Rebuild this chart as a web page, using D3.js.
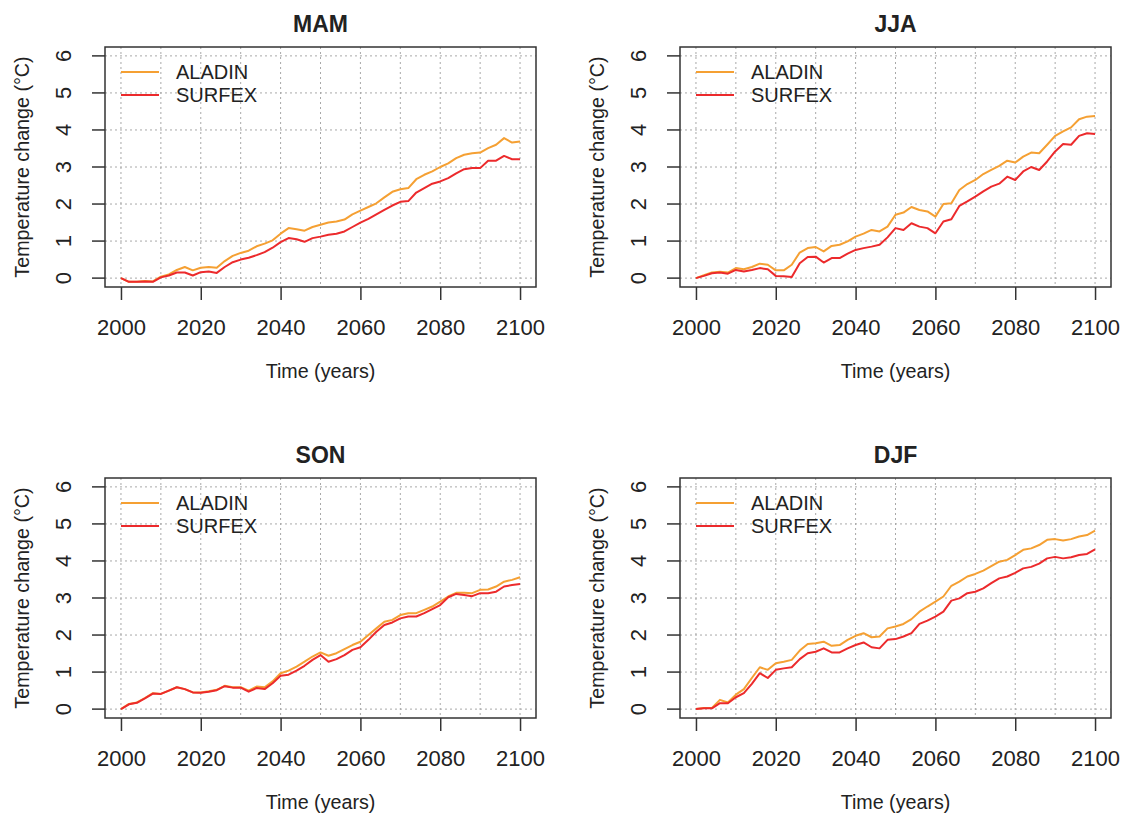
<!DOCTYPE html>
<html>
<head>
<meta charset="utf-8">
<script src="https://cdn.jsdelivr.net/npm/d3@7"></script>
<style>
  body { margin: 0; background: #fff; }
  svg text { font-family: "Liberation Sans", Arial, sans-serif; fill: #222; }
</style>
</head>
<body>
<script>
// years sampled every 2 years
const years = d3.range(2000, 2101, 2);

const seasons = ["MAM", "JJA", "SON", "DJF"];
const seriesNames = ["ALADIN", "SURFEX"];
const xTicks = [2000, 2020, 2040, 2060, 2080, 2100];
const yTicks = [0, 1, 2, 3, 4, 5, 6];
const xGrid = d3.range(2000, 2101, 10);

const mamAladin = [0, -0.1, -0.1, -0.08, -0.09, 0.04, 0.1, 0.22, 0.3, 0.21, 0.28, 0.3, 0.28, 0.46, 0.6, 0.68, 0.74, 0.86, 0.93, 1.02,
  1.2, 1.35, 1.32, 1.28, 1.38, 1.44, 1.5, 1.53, 1.58, 1.72, 1.82, 1.92, 2.02, 2.18, 2.33, 2.4, 2.43, 2.67, 2.79, 2.88,
  3.0, 3.1, 3.24, 3.33, 3.37, 3.39, 3.51, 3.6, 3.78, 3.66, 3.69];
const mamSurfex = [0, -0.1, -0.1, -0.09, -0.1, 0.02, 0.07, 0.15, 0.15, 0.07, 0.16, 0.18, 0.14, 0.3, 0.43, 0.5, 0.55, 0.62, 0.7, 0.82,
  0.97, 1.08, 1.05, 0.98, 1.08, 1.12, 1.17, 1.2, 1.26, 1.38, 1.5, 1.6, 1.72, 1.84, 1.96, 2.06, 2.08, 2.31, 2.43, 2.55,
  2.61, 2.7, 2.83, 2.94, 2.97, 2.97, 3.17, 3.17, 3.3, 3.21, 3.21];

const jjaAladin = [0, 0.08, 0.15, 0.17, 0.15, 0.27, 0.24, 0.3, 0.39, 0.36, 0.21, 0.21, 0.36, 0.69, 0.81, 0.84, 0.72, 0.87, 0.9, 0.99,
  1.12, 1.2, 1.3, 1.26, 1.39, 1.71, 1.77, 1.92, 1.84, 1.8, 1.66, 2.0, 2.02, 2.38, 2.54, 2.65, 2.81, 2.92, 3.03, 3.17,
  3.12, 3.28, 3.39, 3.37, 3.6, 3.84, 3.96, 4.07, 4.29, 4.36, 4.38];
const jjaSurfex = [0, 0.06, 0.13, 0.15, 0.12, 0.22, 0.18, 0.22, 0.27, 0.24, 0.06, 0.05, 0.03, 0.4, 0.57, 0.58, 0.42, 0.54, 0.54, 0.66,
  0.76, 0.81, 0.85, 0.9, 1.1, 1.35, 1.3, 1.48, 1.39, 1.35, 1.21, 1.53, 1.59, 1.95, 2.07, 2.2, 2.34, 2.47, 2.55, 2.74,
  2.65, 2.88, 3.0, 2.92, 3.15, 3.42, 3.62, 3.6, 3.84, 3.91, 3.89];

const sonAladin = [0, 0.14, 0.18, 0.3, 0.43, 0.41, 0.5, 0.59, 0.54, 0.45, 0.45, 0.48, 0.52, 0.63, 0.59, 0.59, 0.5, 0.61, 0.59, 0.75,
  0.97, 1.04, 1.15, 1.28, 1.42, 1.53, 1.44, 1.51, 1.62, 1.73, 1.82, 2.0, 2.18, 2.36, 2.41, 2.54, 2.59, 2.59, 2.68, 2.77,
  2.9, 3.04, 3.14, 3.14, 3.13, 3.22, 3.23, 3.31, 3.44, 3.49, 3.56];
const sonSurfex = [0, 0.13, 0.17, 0.29, 0.42, 0.41, 0.5, 0.59, 0.54, 0.45, 0.44, 0.47, 0.51, 0.62, 0.58, 0.58, 0.47, 0.57, 0.54, 0.7,
  0.9, 0.93, 1.04, 1.17, 1.33, 1.46, 1.28, 1.35, 1.46, 1.6, 1.67, 1.87, 2.09, 2.27, 2.34, 2.45, 2.5, 2.5, 2.59, 2.7,
  2.81, 3.02, 3.11, 3.08, 3.05, 3.13, 3.13, 3.17, 3.31, 3.35, 3.38];

const djfAladin = [0, 0.03, 0.03, 0.25, 0.18, 0.39, 0.54, 0.84, 1.13, 1.06, 1.24, 1.28, 1.33, 1.58, 1.76, 1.78, 1.82, 1.71, 1.73, 1.87,
  1.98, 2.05, 1.94, 1.96, 2.18, 2.23, 2.3, 2.43, 2.63, 2.77, 2.9, 3.04, 3.33, 3.44, 3.58, 3.65, 3.74, 3.86, 3.98, 4.03,
  4.16, 4.3, 4.34, 4.43, 4.57, 4.59, 4.55, 4.59, 4.66, 4.7, 4.82];
const djfSurfex = [0, 0.02, 0.02, 0.16, 0.16, 0.32, 0.43, 0.68, 0.97, 0.84, 1.06, 1.1, 1.13, 1.35, 1.51, 1.55, 1.64, 1.53, 1.53, 1.64,
  1.73, 1.8, 1.67, 1.64, 1.87, 1.89, 1.96, 2.05, 2.3, 2.39, 2.5, 2.63, 2.93, 2.99, 3.13, 3.17, 3.26, 3.4, 3.53, 3.58,
  3.68, 3.8, 3.84, 3.93, 4.07, 4.11, 4.07, 4.1, 4.16, 4.19, 4.31];

const seasonData = {
  MAM: [mamAladin, mamSurfex],
  JJA: [jjaAladin, jjaSurfex],
  SON: [sonAladin, sonSurfex],
  DJF: [djfAladin, djfSurfex]
};
const colors = ["#f5a033", "#ec2a2c"];

const W = 1122, H = 814;
const svg = d3.select("body").append("svg")
  .attr("width", W).attr("height", H);

const boxW = 431, boxH = 240;
const x = d3.scaleLinear().domain([1996, 2104]).range([0, boxW]);
const y = d3.scaleLinear().domain([-0.24, 6.24]).range([boxH, 0]);

const line = d3.line()
  .x((d, i) => x(years[i]))
  .y(d => y(d));

seasons.forEach((s, k) => {
  const col = k % 2, row = Math.floor(k / 2);
  const g = svg.append("g")
    .attr("transform", `translate(${105 + col * 575},${47 + row * 431})`);

  // dotted grid
  g.selectAll("line.vg").data(xGrid).join("line")
    .attr("class", "vg")
    .attr("x1", d => x(d)).attr("x2", d => x(d))
    .attr("y1", 0).attr("y2", boxH)
    .attr("stroke", "#a8a8a8").attr("stroke-width", 1)
    .attr("stroke-dasharray", "2,3");
  g.selectAll("line.hg").data(yTicks).join("line")
    .attr("class", "hg")
    .attr("x1", 0).attr("x2", boxW)
    .attr("y1", d => y(d)).attr("y2", d => y(d))
    .attr("stroke", "#a8a8a8").attr("stroke-width", 1)
    .attr("stroke-dasharray", "2,3");

  // series
  seasonData[s].forEach((vals, i) => {
    g.append("path")
      .datum(vals)
      .attr("d", line)
      .attr("fill", "none")
      .attr("stroke", colors[i])
      .attr("stroke-width", 2)
      .attr("stroke-linejoin", "round");
  });

  // box
  g.append("rect")
    .attr("width", boxW).attr("height", boxH)
    .attr("fill", "none").attr("stroke", "#333").attr("stroke-width", 1.5);

  // x axis
  const xa = g.append("g").attr("transform", `translate(0,${boxH})`)
    .call(d3.axisBottom(x).tickValues(xTicks).tickSize(13).tickPadding(19).tickFormat(d3.format("d")));
  xa.select(".domain").remove();
  xa.selectAll("line").attr("stroke", "#333").attr("stroke-width", 1.5);
  xa.selectAll("text").attr("font-size", 22).attr("fill", "#222")
    .attr("font-family", "Liberation Sans, Arial, sans-serif");

  // y axis
  const ya = g.append("g");
  ya.selectAll("line").data(yTicks).join("line")
    .attr("x1", 0).attr("x2", -13)
    .attr("y1", d => y(d)).attr("y2", d => y(d))
    .attr("stroke", "#333").attr("stroke-width", 1.5);
  ya.selectAll("text").data(yTicks).join("text")
    .attr("transform", d => `translate(-34,${y(d)}) rotate(-90)`)
    .attr("text-anchor", "middle")
    .attr("font-size", 22)
    .text(d => d);

  // titles
  g.append("text")
    .attr("x", boxW / 2).attr("y", -15)
    .attr("text-anchor", "middle")
    .attr("font-size", 23).attr("font-weight", "bold")
    .text(s);
  g.append("text")
    .attr("x", boxW / 2).attr("y", 331)
    .attr("text-anchor", "middle")
    .attr("font-size", 19.7)
    .text("Time (years)");
  g.append("text")
    .attr("transform", `translate(-76,${boxH / 2}) rotate(-90)`)
    .attr("text-anchor", "middle")
    .attr("font-size", 19.7)
    .text("Temperature change (°C)");

  // legend
  const lg = g.append("g").attr("transform", "translate(16,25)");
  seriesNames.forEach((n, i) => {
    lg.append("line")
      .attr("x1", 0).attr("x2", 38)
      .attr("y1", i * 23).attr("y2", i * 23)
      .attr("stroke", colors[i]).attr("stroke-width", 2);
    lg.append("text")
      .attr("x", 55).attr("y", i * 23 + 7)
      .attr("font-size", 20)
      .text(n);
  });
});
</script>
</body>
</html>
